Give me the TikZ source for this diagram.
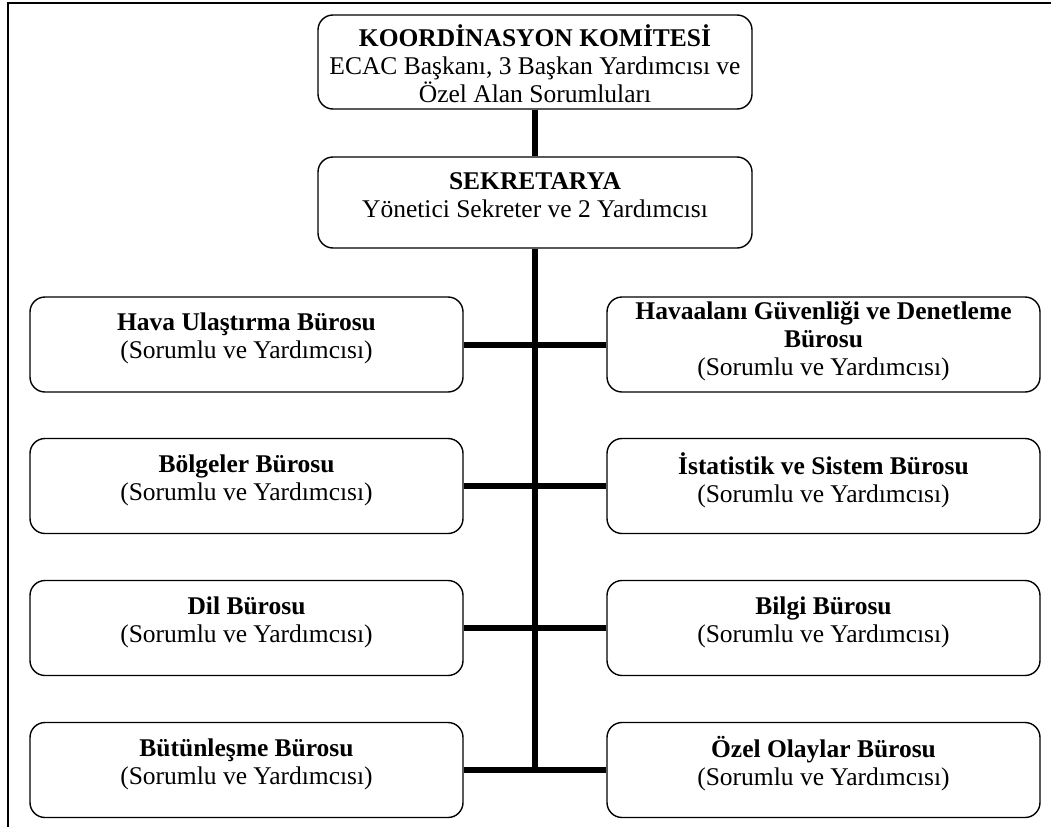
\documentclass[tikz,border=0pt]{standalone}
\usepackage{fontspec}
\setmainfont{Liberation Serif}

% Box contents: fixed-height parbox, text centred, shifted up by half of #2
\newcommand\boxbody[3]{\parbox[c][#1][c]{430pt}{\centering #3\par\vspace*{#2}}}

\begin{document}
\begin{tikzpicture}[x=1pt,y=-1pt,
  orgbox/.style={draw, line width=1.4pt, rounded corners=15pt, inner sep=0pt,
                 minimum width=433pt, font=\fontsize{25.5}{28}\selectfont},
  link/.style={line width=6pt},
  frameline/.style={line width=1.8pt}]
\useasboundingbox (0,0) rectangle (1057,827);

% page frame
\draw[frameline] (7,3) -- (1051,3);
\draw[frameline] (8,2) -- (8,827);

% head boxes
\node[orgbox, minimum width=434pt] (kom) at (535,62)
  {\boxbody{94pt}{-4pt}{\textbf{KOORDİNASYON KOMİTESİ}\\ECAC Başkanı, 3 Başkan Yardımcısı ve\\Özel Alan Sorumluları}};
\node[orgbox, minimum width=434pt] (sek) at (535,202.5)
  {\boxbody{91pt}{14pt}{\textbf{SEKRETARYA}\\Yönetici Sekreter ve 2 Yardımcısı}};

% offices, left column
\node[orgbox] (hava) at (246.5,344.5)
  {\boxbody{95pt}{12pt}{\textbf{Hava Ulaştırma Bürosu}\\(Sorumlu ve Yardımcısı)}};
\node[orgbox] (bolge) at (246.5,486)
  {\boxbody{95pt}{12pt}{\textbf{Bölgeler Bürosu}\\(Sorumlu ve Yardımcısı)}};
\node[orgbox] (dil) at (246.5,628)
  {\boxbody{95pt}{12pt}{\textbf{Dil Bürosu}\\(Sorumlu ve Yardımcısı)}};
\node[orgbox] (butun) at (246.5,770)
  {\boxbody{95pt}{12pt}{\textbf{Bütünleşme Bürosu}\\(Sorumlu ve Yardımcısı)}};

% offices, right column
\node[orgbox] (guven) at (823.5,344.5)
  {\boxbody{95pt}{6pt}{\textbf{Havaalanı Güvenliği ve Denetleme}\\\textbf{Bürosu}\\(Sorumlu ve Yardımcısı)}};
\node[orgbox] (istat) at (823.5,486)
  {\boxbody{95pt}{12pt}{\textbf{İstatistik ve Sistem Bürosu}\\(Sorumlu ve Yardımcısı)}};
\node[orgbox] (bilgi) at (823.5,628)
  {\boxbody{95pt}{12pt}{\textbf{Bilgi Bürosu}\\(Sorumlu ve Yardımcısı)}};
\node[orgbox] (ozel) at (823.5,770)
  {\boxbody{95pt}{12pt}{\textbf{Özel Olaylar Bürosu}\\(Sorumlu ve Yardımcısı)}};

% trunk
\coordinate (trunkend) at (535,773);
\draw[link] (kom.south) -- (sek.north);
\draw[link] (sek.south) -- (trunkend);

% branches
\draw[link] (hava.east) -- (guven.west);
\draw[link] (bolge.east) -- (istat.west);
\draw[link] (dil.east) -- (bilgi.west);
\draw[link] (butun.east) -- (ozel.west);
\end{tikzpicture}
\end{document}
